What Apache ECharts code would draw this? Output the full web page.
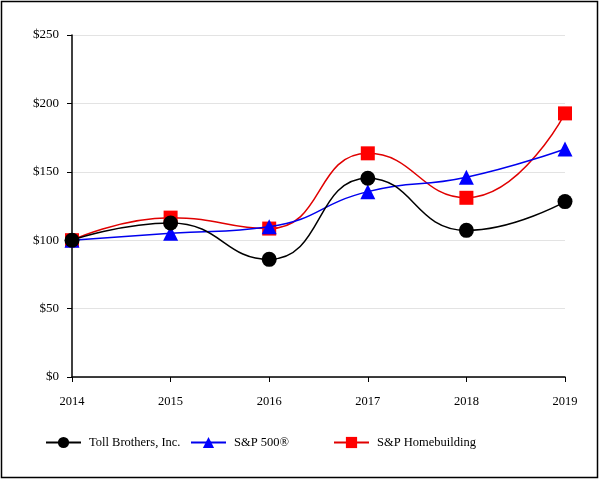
<!DOCTYPE html>
<html>
<head>
<meta charset="utf-8">
<script src="https://cdn.jsdelivr.net/npm/echarts@6/dist/echarts.min.js"></script>
<style>html,body{margin:0;padding:0;background:#fff}#c{width:600px;height:480px}</style>
</head>
<body>
<div id="c"></div>
<script>
var years = ['2014','2015','2016','2017','2018','2019'];
var toll = [100, 112.6, 86, 145.3, 107.2, 128.2];
var sp500 = [100, 105, 109.9, 135.5, 146, 166.7];
var homebuilding = [100, 116.5, 108.5, 163.5, 131, 192.7];
var yTicks = [0, 50, 100, 150, 200, 250];

var font = 'Liberation Serif';
var chart = echarts.init(document.getElementById('c'));
function legendAt(left, name) {
  return {
    left: left, top: 436, padding: 0, itemWidth: 35, itemHeight: 14, itemGap: 0,
    data: [name],
    textStyle: {fontFamily: font, fontSize: 12.5, color: '#000', padding: [0,0,0,3]}
  };
}
chart.setOption({
  animation: false,
  backgroundColor: '#fff',
  graphic: [{type: 'rect', shape: {x: 1.5, y: 1.5, width: 596, height: 476}, style: {fill: 'none', stroke: '#000', lineWidth: 1.5}}],
  legend: [legendAt(45, 'Toll Brothers, Inc.'), legendAt(190, 'S&P 500®'), legendAt(333, 'S&P Homebuilding')],
  grid: {left: 72, right: 35, top: 35, bottom: 103, containLabel: false},
  xAxis: {
    type: 'category', data: years, boundaryGap: false,
    axisLine: {lineStyle: {color: '#000', width: 1.5}},
    axisTick: {show: true, length: 5, lineStyle: {color: '#000'}},
    axisLabel: {fontFamily: font, fontSize: 12.5, color: '#000', margin: 18}
  },
  yAxis: {
    type: 'value', min: 0, max: 250, interval: 50,
    axisLine: {show: true, lineStyle: {color: '#000', width: 1.5}},
    axisTick: {show: true, length: 5, lineStyle: {color: '#000'}},
    axisLabel: {fontFamily: font, fontSize: 13, color: '#000', margin: 13,
      formatter: function (v) { return yTicks.indexOf(v) >= 0 ? '$' + v : ''; }},
    splitLine: {lineStyle: {color: '#e3e3e3'}}
  },
  series: [
    {name: 'Toll Brothers, Inc.', type: 'line', data: toll, smooth: 0.5, symbol: 'circle', symbolSize: 15,
      lineStyle: {color: '#000', width: 1.5}, itemStyle: {color: '#000'}, z: 4},
    {name: 'S&P 500®', type: 'line', data: sp500, smooth: 0.5, symbol: 'triangle', symbolSize: 15,
      lineStyle: {color: '#0000ee', width: 1.5}, itemStyle: {color: '#0000ff'}, z: 3},
    {name: 'S&P Homebuilding', type: 'line', data: homebuilding, smooth: 0.5, symbol: 'rect', symbolSize: 14,
      lineStyle: {color: '#e00000', width: 1.5}, itemStyle: {color: '#ff0000'}, z: 2}
  ]
});
</script>
</body>
</html>
